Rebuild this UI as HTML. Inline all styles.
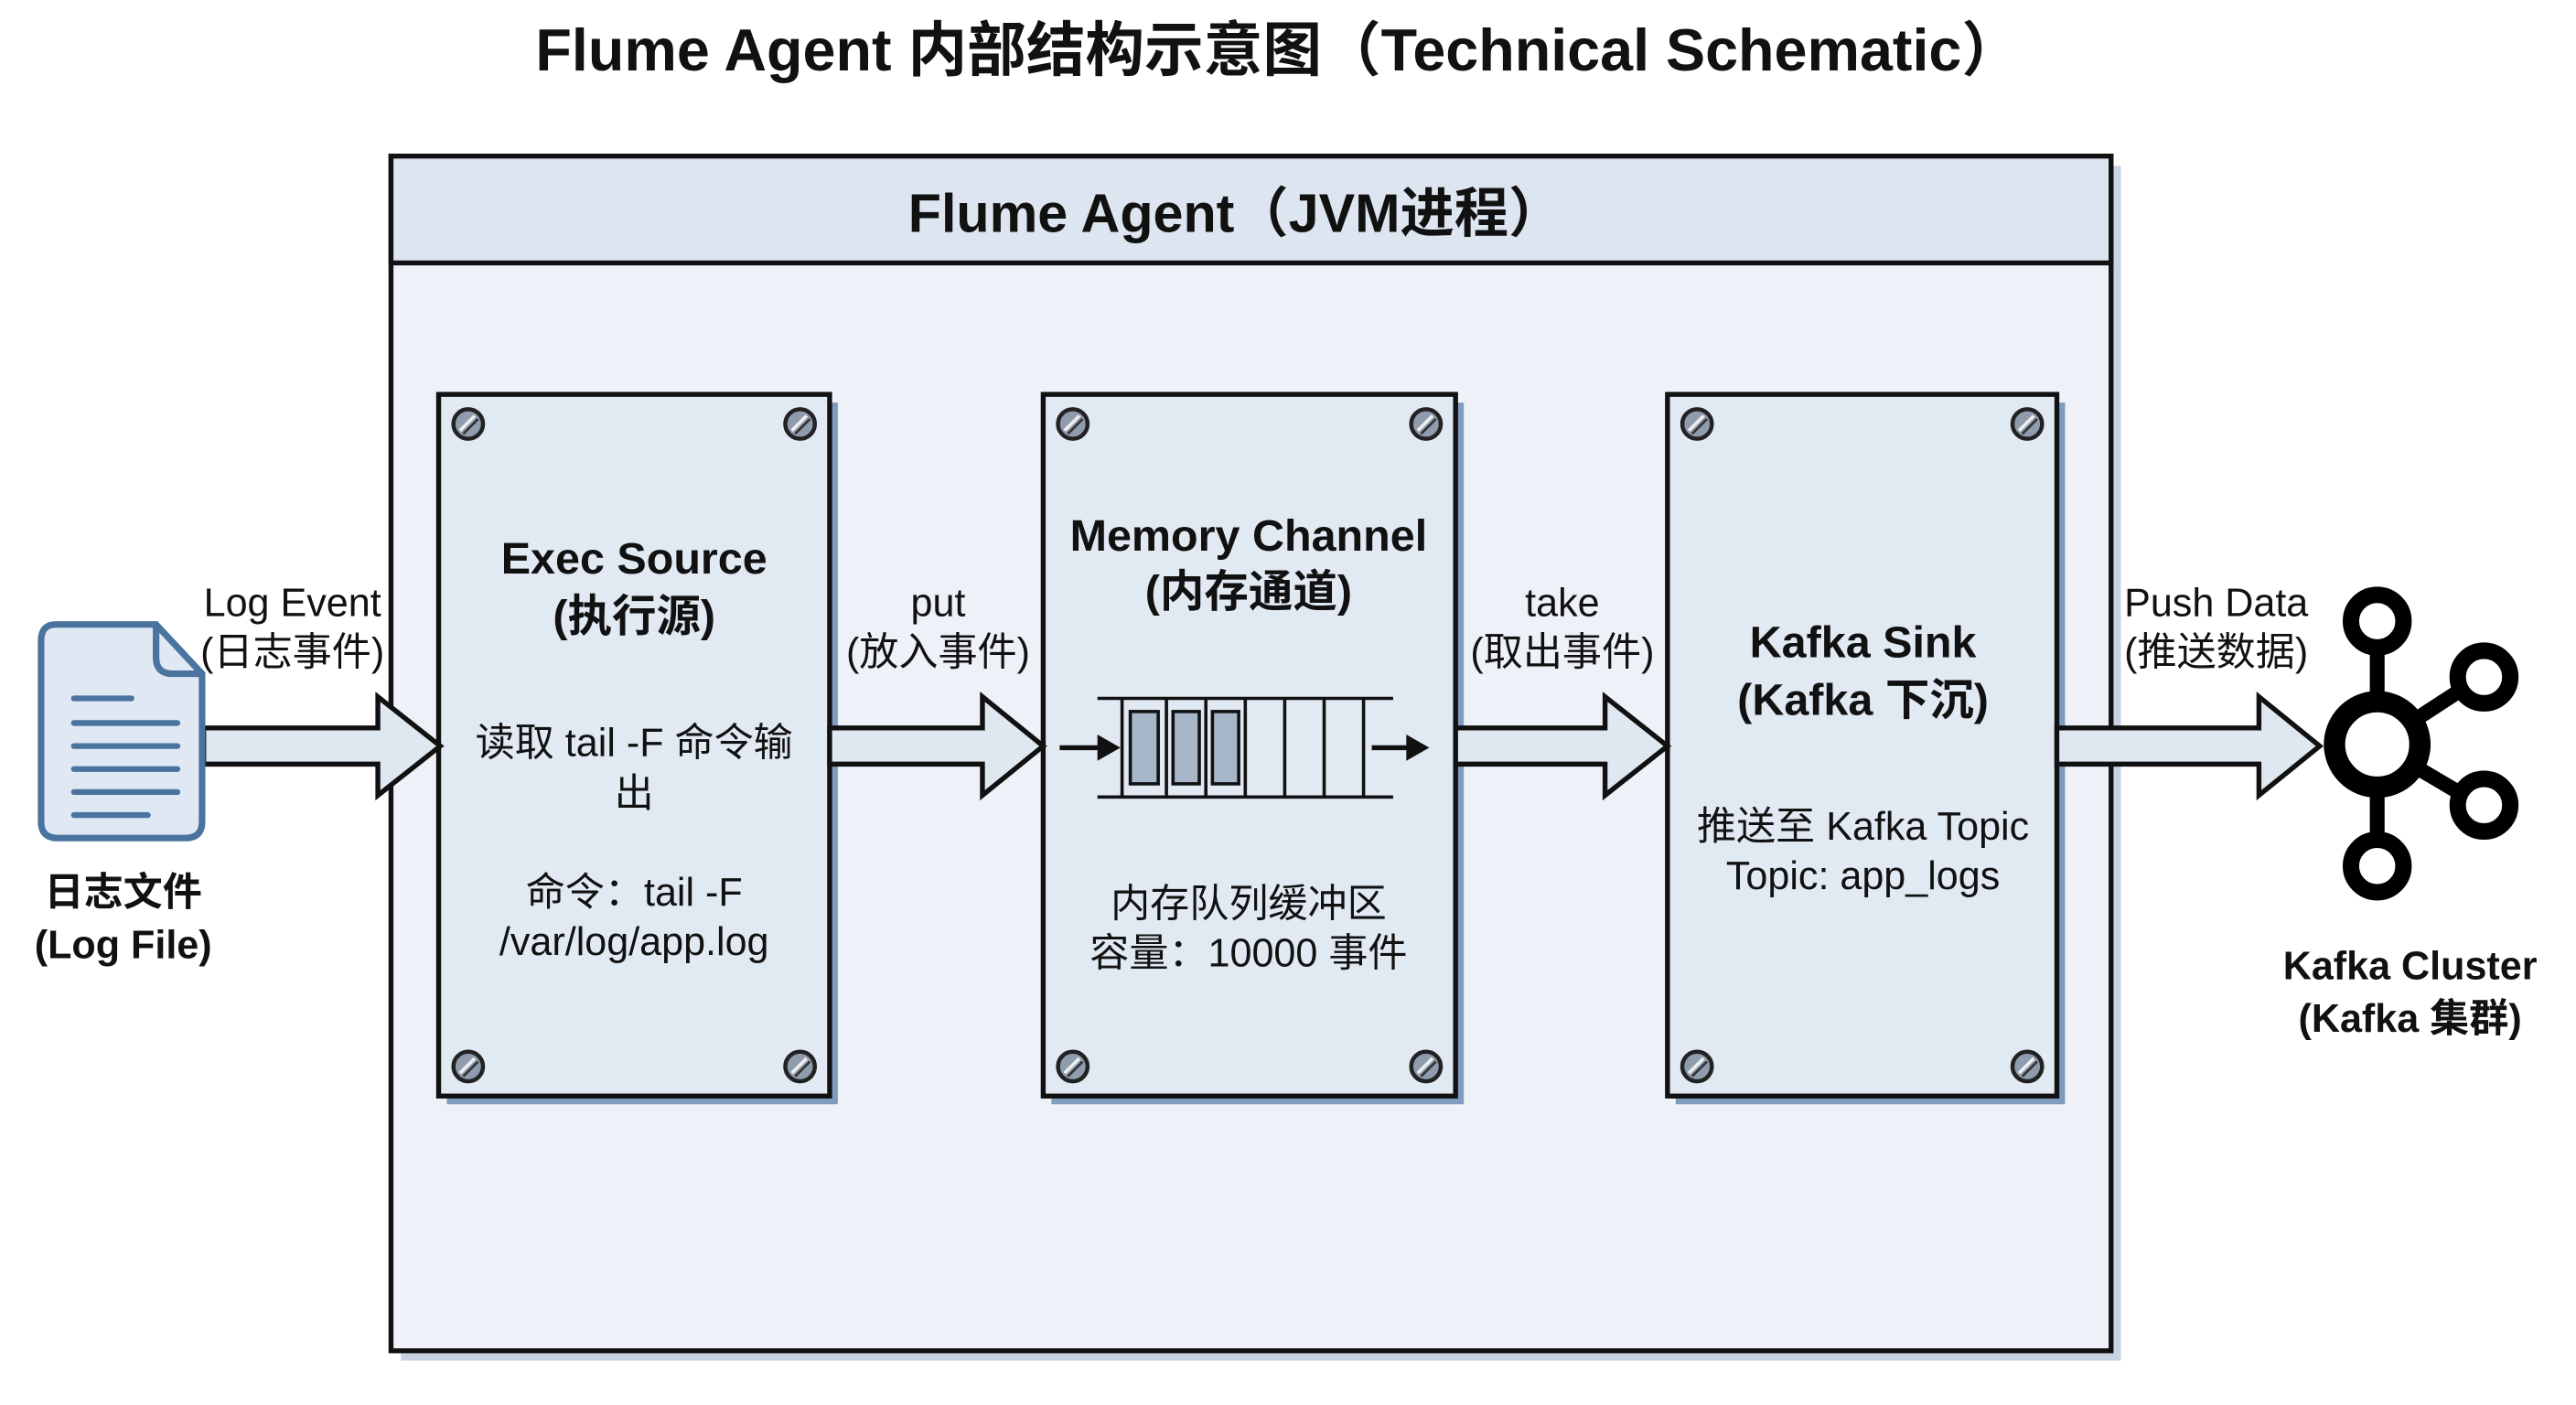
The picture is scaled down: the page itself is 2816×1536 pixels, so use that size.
<!DOCTYPE html>
<html><head><meta charset="utf-8"><style>
html,body{margin:0;padding:0;background:#fff;}
svg{display:block;}
text{font-family:"Liberation Sans","Noto Sans CJK SC",sans-serif;fill:#111;}
.b{font-weight:bold;}
</style></head><body>
<svg width="2816" height="1536" viewBox="0 0 1568 855" preserveAspectRatio="none" xmlns="http://www.w3.org/2000/svg">
<defs>
<g id="screw"><circle r="9" fill="#8e9cae" stroke="#222" stroke-width="2.5"/><line x1="-5" y1="4" x2="4" y2="-5" stroke="#eee" stroke-width="2"/><line x1="-3" y1="6" x2="6" y2="-3" stroke="#333" stroke-width="1.5"/></g>
</defs>
<rect width="1568" height="855" fill="#fff"/>
<text x="778" y="43" text-anchor="middle" font-size="36" class="b">Flume Agent 内部结构示意图（Technical Schematic）</text>

<rect x="244" y="101" width="1047" height="727" fill="#c7d3e2"/>
<rect x="238" y="95" width="1047" height="727" fill="#eef2f8" stroke="#111" stroke-width="3"/>
<rect x="238" y="95" width="1047" height="65" fill="#dde6f0" stroke="#111" stroke-width="3"/>
<text x="752" y="141" text-anchor="middle" font-size="33" class="b">Flume Agent（JVM进程）</text>

<g>
<rect x="272" y="245" width="238" height="427" fill="#7f9bbd"/>
<rect x="267" y="240" width="238" height="427" fill="#e1e9f3" stroke="#111" stroke-width="3"/>
<use href="#screw" x="285" y="258"/><use href="#screw" x="487" y="258"/><use href="#screw" x="285" y="649"/><use href="#screw" x="487" y="649"/>
<text x="386" y="349" text-anchor="middle" font-size="27" class="b">Exec Source</text>
<text x="386" y="384" text-anchor="middle" font-size="27" class="b">(执行源)</text>
<text x="386" y="460" text-anchor="middle" font-size="24">读取 tail -F 命令输</text>
<text x="386" y="491" text-anchor="middle" font-size="24">出</text>
<text x="386" y="551" text-anchor="middle" font-size="24">命令：tail -F</text>
<text x="386" y="581" text-anchor="middle" font-size="24">/var/log/app.log</text>
</g>
<g>
<rect x="640" y="245" width="251" height="427" fill="#7f9bbd"/>
<rect x="635" y="240" width="251" height="427" fill="#e1e9f3" stroke="#111" stroke-width="3"/>
<use href="#screw" x="653" y="258"/><use href="#screw" x="868" y="258"/><use href="#screw" x="653" y="649"/><use href="#screw" x="868" y="649"/>
<text x="760" y="335" text-anchor="middle" font-size="27" class="b">Memory Channel</text>
<text x="760" y="369" text-anchor="middle" font-size="27" class="b">(内存通道)</text>
<line x1="668" y1="425" x2="848" y2="425" stroke="#111" stroke-width="2"/>
<line x1="668" y1="485" x2="848" y2="485" stroke="#111" stroke-width="2"/>
<g stroke="#111" stroke-width="2"><line x1="683" y1="425" x2="683" y2="485"/><line x1="710" y1="425" x2="710" y2="485"/><line x1="734" y1="425" x2="734" y2="485"/><line x1="758" y1="425" x2="758" y2="485"/><line x1="782" y1="425" x2="782" y2="485"/><line x1="806" y1="425" x2="806" y2="485"/><line x1="830" y1="425" x2="830" y2="485"/></g>
<rect x="688" y="433" width="17" height="44" fill="#a7b6c8" stroke="#111" stroke-width="2"/>
<rect x="714" y="433" width="16" height="44" fill="#a7b6c8" stroke="#111" stroke-width="2"/>
<rect x="738" y="433" width="16" height="44" fill="#a7b6c8" stroke="#111" stroke-width="2"/>
<line x1="645" y1="455" x2="670" y2="455" stroke="#111" stroke-width="3"/><polygon points="668,447 682,455 668,463" fill="#111"/>
<line x1="835" y1="455" x2="858" y2="455" stroke="#111" stroke-width="3"/><polygon points="856,447 870,455 856,463" fill="#111"/>
<text x="760" y="558" text-anchor="middle" font-size="24">内存队列缓冲区</text>
<text x="760" y="588" text-anchor="middle" font-size="24">容量：10000 事件</text>
</g>
<g>
<rect x="1020" y="245" width="237" height="427" fill="#7f9bbd"/>
<rect x="1015" y="240" width="237" height="427" fill="#e1e9f3" stroke="#111" stroke-width="3"/>
<use href="#screw" x="1033" y="258"/><use href="#screw" x="1234" y="258"/><use href="#screw" x="1033" y="649"/><use href="#screw" x="1234" y="649"/>
<text x="1134" y="400" text-anchor="middle" font-size="27" class="b">Kafka Sink</text>
<text x="1134" y="435" text-anchor="middle" font-size="27" class="b">(Kafka 下沉)</text>
<text x="1134" y="511" text-anchor="middle" font-size="24">推送至 Kafka Topic</text>
<text x="1134" y="541" text-anchor="middle" font-size="24">Topic: app_logs</text>
</g>

<g fill="#dfe7f1" stroke="#111" stroke-width="3" stroke-linejoin="miter">
<polygon points="124,443 230,443 230,424 268,454 230,484 230,465 124,465"/>
<polygon points="505,443 598,443 598,424 635,454 598,484 598,465 505,465"/>
<polygon points="886,443 977,443 977,424 1015,454 977,484 977,465 886,465"/>
<polygon points="1252,443 1375,443 1375,424 1412,454 1375,484 1375,465 1252,465"/>
</g>
<g font-size="24" text-anchor="middle">
<text x="178" y="375">Log Event</text><text x="178" y="405">(日志事件)</text>
<text x="571" y="375">put</text><text x="571" y="405">(放入事件)</text>
<text x="951" y="375">take</text><text x="951" y="405">(取出事件)</text>
<text x="1349" y="375">Push Data</text><text x="1349" y="405">(推送数据)</text>
</g>

<path d="M34,380 H95 L123,410 V500 Q123,510 113,510 H35 Q25,510 25,500 V390 Q25,380 34,380 Z" fill="#dfe8f3" stroke="#4a73a0" stroke-width="4"/>
<path d="M95,380 V400 Q95,410 105,410 H123" fill="none" stroke="#4a73a0" stroke-width="4"/>
<g stroke="#4a73a0" stroke-width="3.5" stroke-linecap="round">
<line x1="45" y1="425" x2="80" y2="425"/><line x1="45" y1="440" x2="108" y2="440"/><line x1="45" y1="454" x2="108" y2="454"/><line x1="45" y1="468" x2="108" y2="468"/><line x1="45" y1="482" x2="108" y2="482"/><line x1="45" y1="496" x2="90" y2="496"/>
</g>
<text x="75" y="551" text-anchor="middle" font-size="24" class="b">日志文件</text>
<text x="75" y="583" text-anchor="middle" font-size="24" class="b">(Log File)</text>

<g stroke="#000" fill="none">
<line x1="1447" y1="453" x2="1447" y2="380" stroke-width="9"/>
<line x1="1447" y1="453" x2="1447" y2="527" stroke-width="9"/>
<line x1="1447" y1="453" x2="1510" y2="412" stroke-width="9"/>
<line x1="1447" y1="453" x2="1510" y2="490" stroke-width="9"/>
<circle cx="1447" cy="453" r="26" stroke-width="13" fill="#fff"/>
<circle cx="1447" cy="378" r="16" stroke-width="10" fill="#fff"/>
<circle cx="1512" cy="412" r="16" stroke-width="10" fill="#fff"/>
<circle cx="1512" cy="490" r="16" stroke-width="10" fill="#fff"/>
<circle cx="1447" cy="527" r="16" stroke-width="10" fill="#fff"/>
</g>
<text x="1467" y="596" text-anchor="middle" font-size="24" class="b">Kafka Cluster</text>
<text x="1467" y="628" text-anchor="middle" font-size="24" class="b">(Kafka 集群)</text>
</svg>
</body></html>
